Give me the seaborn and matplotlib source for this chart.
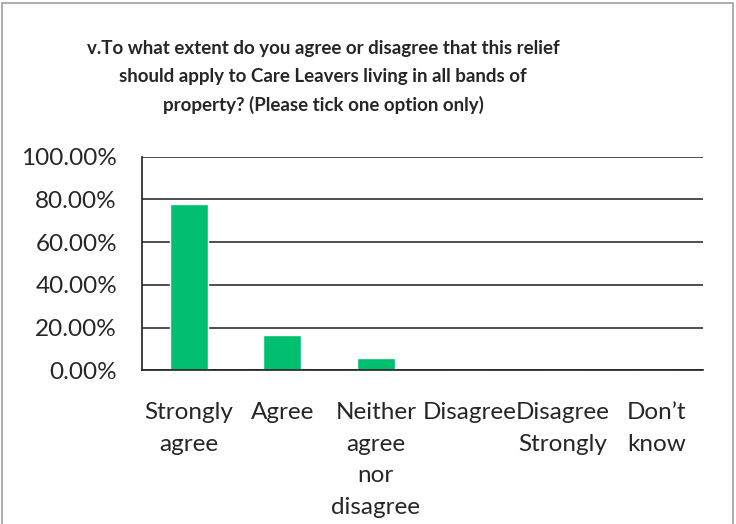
import matplotlib
matplotlib.use("Agg")
import matplotlib.pyplot as plt
import seaborn as sns
import pandas as pd
from matplotlib.patches import Rectangle

categories = ["Strongly\nagree", "Agree", "Neither\nagree\nnor\ndisagree", "Disagree",
              "Disagree\nStrongly", "Don\u2019t\nknow"]
values = [77.78, 16.67, 5.56, 0.0, 0.0, 0.0]
yticks = [0, 20, 40, 60, 80, 100]
ytick_labels = ["0.00%", "20.00%", "40.00%", "60.00%", "80.00%", "100.00%"]
title = ("v.To what extent do you agree or disagree that this relief\n"
         "should apply to Care Leavers living in all bands of\n"
         "property? (Please tick one option only)")

sns.set_style("white")
plt.rcParams['font.family'] = ['Lato', 'DejaVu Sans']

W, H = 736, 524
fig = plt.figure(figsize=(W / 100, H / 100), dpi=100)
ax = fig.add_axes([142 / W, 1 - 370.3 / H, (703 - 142) / W, (370.3 - 156.6) / H])

df = pd.DataFrame({"cat": categories, "val": values})
sns.barplot(data=df, x="cat", y="val", color="#00C070", saturation=1, width=0.41, ax=ax)

ax.set_ylim(0, 100)
ax.set_xlim(-0.5, len(categories) - 0.5)
ax.set_yticks(yticks)
ax.set_yticklabels(ytick_labels, fontsize=17.5)
ax.set_xlabel("")
ax.set_ylabel("")
ax.yaxis.grid(True, color="#404040", linewidth=1.3)
ax.set_axisbelow(True)
for s in ["top", "right"]:
    ax.spines[s].set_visible(False)
ax.spines["left"].set_color("#202020")
ax.spines["bottom"].set_color("#202020")
ax.spines["left"].set_linewidth(1.2)
ax.spines["bottom"].set_linewidth(1.2)

# category labels between boundary ticks (Excel style)
ax.set_xticks(range(len(categories)))
ax.set_xticklabels(categories, fontsize=17.5, linespacing=1.62, va="top")
ax.tick_params(axis="x", length=0, pad=23)
ax.set_xticks([i - 0.5 for i in range(len(categories) + 1)], minor=True)
ax.tick_params(axis="x", which="minor", length=5, width=1.2, color="#202020", direction="out")
ax.tick_params(axis="y", length=5, width=1.2, color="#202020", direction="out", pad=13)

fig.text(323 / W, 1 - 77 / H, title, ha="center", va="center", fontsize=13.5,
         fontweight="bold", linespacing=1.72)

fig.patches.append(Rectangle((2 / W, -0.01), 731 / W, 1 - 3 / H + 0.01, transform=fig.transFigure,
                             fill=False, edgecolor="#A0A0A0", linewidth=1.2))

fig.savefig("out.png", dpi=100)
